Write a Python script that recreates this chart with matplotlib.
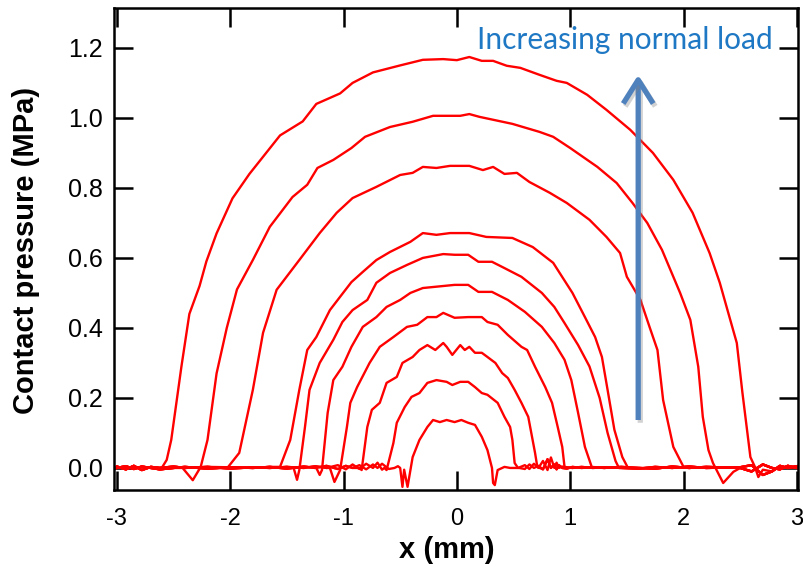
import matplotlib
matplotlib.use("Agg")
import matplotlib.pyplot as plt
import matplotlib.patheffects as pe
from matplotlib.patches import FancyArrowPatch

# contact pressure profiles, one per normal load (x in mm, pressure in MPa)
# only the loaded part of each profile is listed; the flat zero part is shared below
c1_x = [-2.6, -2.56, -2.52, -2.43, -2.36, -2.27, -2.21, -2.12, -1.98, -1.83, -1.56, -1.36, -1.24, -1.03,
        -0.92, -0.74, -0.50, -0.30, -0.12, 0.0, 0.11, 0.22, 0.32, 0.44, 0.56, 0.73, 0.88, 0.97, 1.15,
        1.32, 1.53, 1.73, 1.91, 2.08, 2.23, 2.32, 2.38, 2.47, 2.52, 2.59, 2.63, 2.66, 2.7]
c1_p = [0.002, 0.023, 0.08, 0.29, 0.44, 0.52, 0.59, 0.67, 0.77, 0.84, 0.95, 0.99, 1.04, 1.07,
        1.10, 1.13, 1.15, 1.166, 1.168, 1.165, 1.174, 1.163, 1.163, 1.149, 1.143, 1.123, 1.106, 1.10, 1.066,
        1.023, 0.966, 0.90, 0.823, 0.729, 0.614, 0.529, 0.46, 0.357, 0.214, 0.031, 0.003, -0.026, -0.005]

c2_x = [-2.42, -2.33, -2.26, -2.20, -2.12, -2.03, -1.94, -1.80, -1.65, -1.45, -1.32, -1.23, -1.09, -0.93,
        -0.81, -0.59, -0.39, -0.21, 0.03, 0.11, 0.20, 0.49, 0.73, 0.85, 1.0, 1.24, 1.41, 1.55, 1.68,
        1.81, 1.97, 2.06, 2.13, 2.17, 2.22, 2.26, 2.35, 2.44]
c2_p = [0.0, -0.035, 0.003, 0.08, 0.27, 0.40, 0.51, 0.594, 0.689, 0.774, 0.809, 0.857, 0.88, 0.914,
        0.946, 0.974, 0.989, 1.006, 1.006, 1.011, 1.003, 0.983, 0.96, 0.946, 0.914, 0.86, 0.814, 0.757, 0.70,
        0.623, 0.50, 0.423, 0.289, 0.146, 0.051, 0.014, -0.043, -0.011]

c3_x = [-2.02, -1.92, -1.80, -1.71, -1.59, -1.39, -1.21, -1.06, -0.92, -0.71, -0.50, -0.39, -0.30, -0.18,
        -0.06, 0.11, 0.23, 0.32, 0.42, 0.53, 0.64, 0.82, 0.97, 1.17, 1.32, 1.44, 1.50, 1.62, 1.70, 1.77,
        1.82, 1.91, 2.0]
c3_p = [0.002, 0.043, 0.223, 0.386, 0.509, 0.594, 0.671, 0.729, 0.771, 0.803, 0.837, 0.843, 0.86, 0.857,
        0.863, 0.863, 0.851, 0.86, 0.84, 0.843, 0.817, 0.786, 0.757, 0.709, 0.66, 0.614, 0.546, 0.48, 0.403, 0.337,
        0.194, 0.06, 0.003]

c4_x = [-1.56, -1.47, -1.39, -1.32, -1.24, -1.12, -1.03, -0.93, -0.83, -0.71, -0.59, -0.41, -0.30, -0.18,
        -0.06, 0.11, 0.26, 0.49, 0.67, 0.85, 1.02, 1.13, 1.22, 1.28, 1.33, 1.39, 1.46, 1.51]
c4_p = [0.003, 0.08, 0.223, 0.337, 0.374, 0.451, 0.489, 0.531, 0.56, 0.594, 0.617, 0.646, 0.671, 0.666,
        0.671, 0.671, 0.66, 0.657, 0.631, 0.586, 0.50, 0.431, 0.374, 0.317, 0.223, 0.109, 0.031, 0.0]

c5_x = [-1.44, -1.41, -1.39, -1.34, -1.30, -1.21, -1.09, -1.01, -0.92, -0.79, -0.71, -0.59, -0.44, -0.30,
        -0.12, -0.02, 0.10, 0.19, 0.31, 0.42, 0.57, 0.75, 0.86, 0.95, 1.07, 1.17, 1.26, 1.33, 1.40, 1.43]
c5_p = [0.0, -0.034, -0.006, 0.117, 0.223, 0.30, 0.366, 0.417, 0.451, 0.48, 0.529, 0.557, 0.58, 0.60,
        0.611, 0.609, 0.609, 0.589, 0.589, 0.571, 0.546, 0.50, 0.46, 0.414, 0.351, 0.29, 0.20, 0.10, 0.02, 0.0]

c6_x = [-1.24, -1.21, -1.19, -1.14, -1.09, -1.01, -0.93, -0.83, -0.71, -0.62, -0.50, -0.41, -0.30,
        -0.02, 0.10, 0.19, 0.31, 0.45, 0.60, 0.75, 0.86, 0.95, 1.01, 1.07, 1.13, 1.19]
c6_p = [0.0, -0.02, -0.006, 0.157, 0.251, 0.289, 0.346, 0.403, 0.431, 0.46, 0.48, 0.50, 0.514,
        0.523, 0.523, 0.503, 0.503, 0.48, 0.446, 0.403, 0.357, 0.309, 0.251, 0.157, 0.06, 0.003]

c7_x = [-1.12, -1.08, -1.03, -0.97, -0.94, -0.88, -0.77, -0.68, -0.56, -0.44, -0.35, -0.26, -0.18, -0.12,
        -0.02, 0.10, 0.22, 0.27, 0.36, 0.45, 0.57, 0.62, 0.69, 0.78, 0.84, 0.89, 0.93, 0.95]
c7_p = [0.0, -0.04, -0.006, 0.117, 0.186, 0.231, 0.30, 0.346, 0.374, 0.403, 0.409, 0.431, 0.431, 0.443,
        0.429, 0.431, 0.431, 0.417, 0.409, 0.38, 0.346, 0.337, 0.289, 0.231, 0.186, 0.117, 0.06, 0.003]

c8_x = [-0.86, -0.84, -0.79, -0.75, -0.68, -0.62, -0.53, -0.48, -0.39, -0.33, -0.26, -0.19, -0.12, -0.09,
        -0.04, 0.03, 0.07, 0.11, 0.16, 0.22, 0.27, 0.34, 0.40, 0.45, 0.51, 0.57, 0.63, 0.69, 0.71]
c8_p = [0.0, -0.006, 0.117, 0.166, 0.186, 0.243, 0.26, 0.30, 0.317, 0.337, 0.351, 0.337, 0.357, 0.346,
        0.323, 0.351, 0.337, 0.346, 0.329, 0.329, 0.317, 0.30, 0.271, 0.257, 0.223, 0.186, 0.146, 0.043, 0.003]

c9_x = [-0.64, -0.62, -0.56, -0.53, -0.46, -0.40, -0.33, -0.26, -0.18, -0.09, -0.04, 0.03, 0.10, 0.16,
        0.22, 0.27, 0.36, 0.42, 0.47, 0.49, 0.51, 0.54]
c9_p = [0.0, -0.006, 0.071, 0.129, 0.174, 0.203, 0.214, 0.243, 0.251, 0.246, 0.237, 0.246, 0.246, 0.231,
        0.214, 0.209, 0.186, 0.146, 0.117, 0.08, 0.014, 0.0]

c10_x = [-0.50, -0.48, -0.465, -0.435, -0.39, -0.33, -0.26, -0.21, -0.15, -0.09, -0.02, 0.04, 0.10, 0.16,
         0.22, 0.27, 0.31, 0.32, 0.335, 0.36, 0.42, 0.47]
c10_p = [0.0, -0.054, -0.005, -0.054, 0.031, 0.08, 0.117, 0.137, 0.131, 0.137, 0.131, 0.137, 0.129, 0.123,
         0.089, 0.051, 0.0, -0.043, -0.049, -0.006, 0.003, 0.0]

# zero-load part of the sensor (two slightly different noise traces)
base_x = [-3.0, -2.92, -2.85, -2.78, -2.7, -2.62, -2.5, -2.4, -2.2, -2.0, -1.8, -1.65, -1.5, -1.35,
          -1.25, -1.15, -1.05, -0.98, -0.92, -0.86, -0.8, -0.74, -0.7, -0.66, -0.6, -0.55, -0.52,
          0.55, 0.6, 0.64, 0.68, 0.72, 0.76, 0.8, 0.83, 0.86, 0.88, 0.9, 0.93, 0.97, 1.02, 1.1,
          1.2, 1.3, 1.45, 1.6, 1.75, 1.9, 2.05, 2.2, 2.5, 2.6, 2.7, 2.78, 2.85, 2.92, 3.0]
base_a = [0.004, -0.004, 0.006, -0.006, 0.003, 0.0, 0.004, 0.0, 0.003, -0.002, 0.002, 0.0, 0.003, 0.0,
          0.005, 0.0, 0.008, -0.004, 0.01, -0.003, 0.012, 0.0, 0.015, -0.005, 0.01, 0.003, 0.0,
          0.002, 0.008, -0.003, 0.012, 0.0, 0.02, -0.006, 0.03, 0.0, 0.015, 0.0, 0.004, 0.002, 0.0, 0.003,
          0.0, 0.002, 0.0, -0.002, 0.003, 0.0, 0.004, 0.0, 0.002, 0.008, -0.02, -0.01, 0.006, 0.0, 0.005]
base_b = [0.0, 0.005, -0.003, 0.004, 0.0, -0.004, 0.0, 0.003, -0.002, 0.002, 0.0, 0.003, -0.002, 0.004,
          0.0, 0.006, -0.003, 0.006, 0.0, 0.008, -0.004, 0.01, 0.0, 0.012, -0.003, 0.0, 0.005,
          0.0, -0.003, 0.01, 0.0, 0.006, -0.004, 0.025, 0.0, 0.01, -0.004, 0.008, 0.0, -0.002, 0.003, 0.0,
          0.002, 0.0, 0.003, 0.0, -0.002, 0.004, 0.0, 0.003, 0.0, -0.01, 0.01, 0.0, -0.004, 0.006, 0.0]

x_ticks = [-3, -2, -1, 0, 1, 2, 3]
y_ticks = [0.0, 0.2, 0.4, 0.6, 0.8, 1.0, 1.2]
y_tick_labels = ["0.0", "0.2", "0.4", "0.6", "0.8", "1.0", "1.2"]

curves = [(c1_x, c1_p), (c2_x, c2_p), (c3_x, c3_p), (c4_x, c4_p), (c5_x, c5_p),
          (c6_x, c6_p), (c7_x, c7_p), (c8_x, c8_p), (c9_x, c9_p), (c10_x, c10_p)]

# Igor-like axes: ticks inside on all four sides, Arial-ish text
plt.rcParams["font.family"] = "Liberation Sans"
plt.rcParams["xtick.labelsize"] = 17
plt.rcParams["ytick.labelsize"] = 18
plt.rcParams["xtick.direction"] = "in"
plt.rcParams["ytick.direction"] = "in"
plt.rcParams["xtick.top"] = True
plt.rcParams["ytick.right"] = True
plt.rcParams["xtick.major.size"] = 14
plt.rcParams["ytick.major.size"] = 14
plt.rcParams["xtick.major.width"] = 1.8
plt.rcParams["ytick.major.width"] = 1.8
plt.rcParams["xtick.major.pad"] = 13
plt.rcParams["ytick.major.pad"] = 8
plt.rcParams["axes.linewidth"] = 1.8

fig = plt.figure(figsize=(8.04, 5.74), dpi=100)
ax = fig.add_axes([114 / 804, 1 - 490 / 574, 684 / 804, 482 / 574])

for i, (cx, cp) in enumerate(curves):
    base = base_a if i % 2 == 0 else base_b
    left = [(bx, bp) for bx, bp in zip(base_x, base) if bx < cx[0] - 0.01]
    right = [(bx, bp) for bx, bp in zip(base_x, base) if bx > cx[-1] + 0.01]
    xs = [p[0] for p in left] + cx + [p[0] for p in right]
    ys = [p[1] for p in left] + cp + [p[1] for p in right]
    ax.plot(xs, ys, color="red", lw=1.7, solid_joinstyle="round")

ax.set_xlim(-3.025, 3.01)
ax.set_ylim(-0.063, 1.314)
ax.set_xticks(x_ticks)
ax.set_xticklabels([str(t) for t in x_ticks])
ax.set_yticks(y_ticks)
ax.set_yticklabels(y_tick_labels)

fig.text(26 / 804, 1 - 250 / 574, "Contact pressure (MPa)", rotation=90, ha="center", va="center",
         fontsize=21, fontweight="bold")
fig.text(447 / 804, 1 - 550 / 574, "x (mm)", ha="center", va="center",
         fontsize=21, fontweight="bold")

# overlay arrow and note
arrow = FancyArrowPatch((1.60, 0.137), (1.60, 1.123), arrowstyle="->,head_length=0.95,head_width=0.6",
                        mutation_scale=18, color="#4F81BD", lw=3.8, shrinkA=0, shrinkB=0,
                        joinstyle="round", capstyle="butt", zorder=5)
arrow.set_path_effects([pe.SimpleLineShadow(offset=(1.5, -2), shadow_color="gray", alpha=0.35), pe.Normal()])
ax.add_patch(arrow)
ax.text(1.48, 1.223, "Increasing normal load", ha="center", va="center", color="#1F78C4",
        fontsize=21.5, family="Lato", zorder=6)

fig.savefig("out.png", dpi=100)
